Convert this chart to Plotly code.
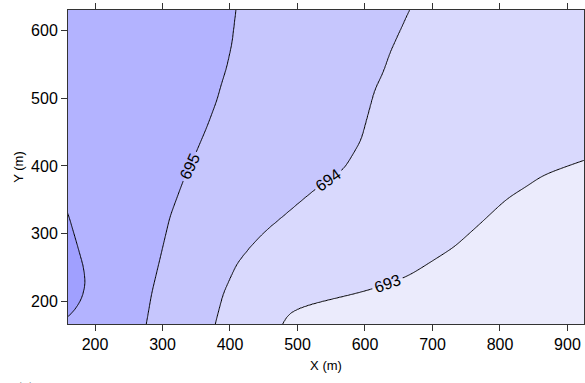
import numpy as np
import plotly.graph_objects as go

# Isoline crossings: for each elevation level, the x position (m) at which the
# level line passes through a given row y (m). Rows outside the map are extended
# so the interpolated surface stays monotone across the whole window.
levels = [696, 695, 694, 693]

y_696 = [100, 150, 166, 175, 177, 188, 205, 227, 251, 286, 330, 360, 450, 700]
x_696 = [90, 130, 148, 158, 160, 171, 181, 186, 183, 173, 160, 145, 110, 40]

y_695 = [100, 150, 166, 212, 266, 325, 379, 409, 458, 498, 520, 545, 581, 631, 700]
x_695 = [265, 273, 276, 284, 297, 311, 331, 345, 366, 381, 387, 395, 403, 409, 416]

y_694 = [100, 150, 166, 212, 256, 283, 303, 322, 349, 372, 394, 419, 438, 512,
         539, 568, 631, 700]
x_694 = [365, 375, 378, 390, 410, 432, 451, 474, 506, 534, 568, 583, 594, 614,
         627, 637, 666, 700]

y_693 = [100, 150, 166, 185, 195, 200, 214, 232, 239, 280, 316, 345, 355, 370,
         387, 409, 430, 500, 700]
x_693 = [460, 470, 477, 489, 514, 535, 598, 652, 667, 732, 772, 803, 815, 840,
         864, 926, 990, 1100, 1400]

x_ticks = [200, 300, 400, 500, 600, 700, 800, 900]
y_ticks = [200, 300, 400, 500, 600]

band_colors = ["#EBEBFC", "#D9D9FD", "#C6C6FD", "#B3B3FF", "#A0A0FF"]


def smooth_crossing(ys, xs, rows, sigma=7.0):
    """Crossing position per row, with the corners between readings rounded."""
    fine = np.arange(100.0, 700.0, 1.0)
    raw = np.interp(fine, ys, xs)
    k = np.arange(-4 * sigma, 4 * sigma + 1)
    w = np.exp(-0.5 * (k / sigma) ** 2)
    w /= w.sum()
    pad = len(k) // 2
    padded = np.concatenate([np.full(pad, raw[0]), raw, np.full(pad, raw[-1])])
    sm = np.convolve(padded, w, mode="valid")
    return np.interp(rows, fine, sm)


# Build the elevation surface row by row from the level crossings
gx = np.arange(156, 930, 2.0)
gy = np.arange(160, 636, 2.0)
xa = smooth_crossing(y_696, x_696, gy, 6.0)
xb = smooth_crossing(y_695, x_695, gy)
xc = smooth_crossing(y_694, x_694, gy)
xd = smooth_crossing(y_693, x_693, gy, 6.0)

Z = np.empty((gy.size, gx.size))
for i in range(gy.size):
    knots_x = [xa[i] - 150, xa[i], xb[i], xc[i], xd[i], xd[i] + 300]
    knots_z = [697] + levels + [692]
    Z[i] = np.interp(gx, knots_x, knots_z)

fig = go.Figure(
    go.Contour(
        x=gx,
        y=gy,
        z=Z,
        autocontour=False,
        contours=dict(
            start=693, end=696, size=1, coloring="fill", showlabels=True,
            labelfont=dict(family="Liberation Sans", size=16, color="black"),
        ),
        colorscale=[[0.0, band_colors[0]], [0.25, band_colors[1]],
                    [0.5, band_colors[2]], [0.75, band_colors[3]],
                    [1.0, band_colors[4]]],
        line=dict(color="black", width=1),
        line_smoothing=1.0,
        showscale=False,
        hoverinfo="skip",
    )
)

axis_common = dict(
    showgrid=False, zeroline=False, showline=True, linecolor="#333333",
    linewidth=1, ticks="outside", ticklen=6, tickwidth=1, tickcolor="#333333",
    tickfont=dict(family="Liberation Sans", size=16, color="black"),
)

fig.update_layout(
    width=585, height=383,
    margin=dict(l=68, r=1, t=10, b=59),
    paper_bgcolor="white", plot_bgcolor="white",
    xaxis=dict(range=[160, 924.5], tickvals=x_ticks, mirror="ticks",
               title=dict(text="X (m)", standoff=8,
                          font=dict(family="Liberation Sans", size=13, color="black")),
               **axis_common),
    yaxis=dict(range=[166.5, 630.5], tickvals=y_ticks, mirror=True,
               title=dict(text="Y (m)", standoff=4,
                          font=dict(family="Liberation Sans", size=13, color="black")),
               **axis_common),
    annotations=[dict(
        text="(a) Figure", xref="paper", yref="paper", x=-0.105, y=-0.168,
        xanchor="left", yanchor="top", showarrow=False,
        font=dict(family="Liberation Serif", size=17, color="black"),
    )],
)

fig.write_html("out.html")
